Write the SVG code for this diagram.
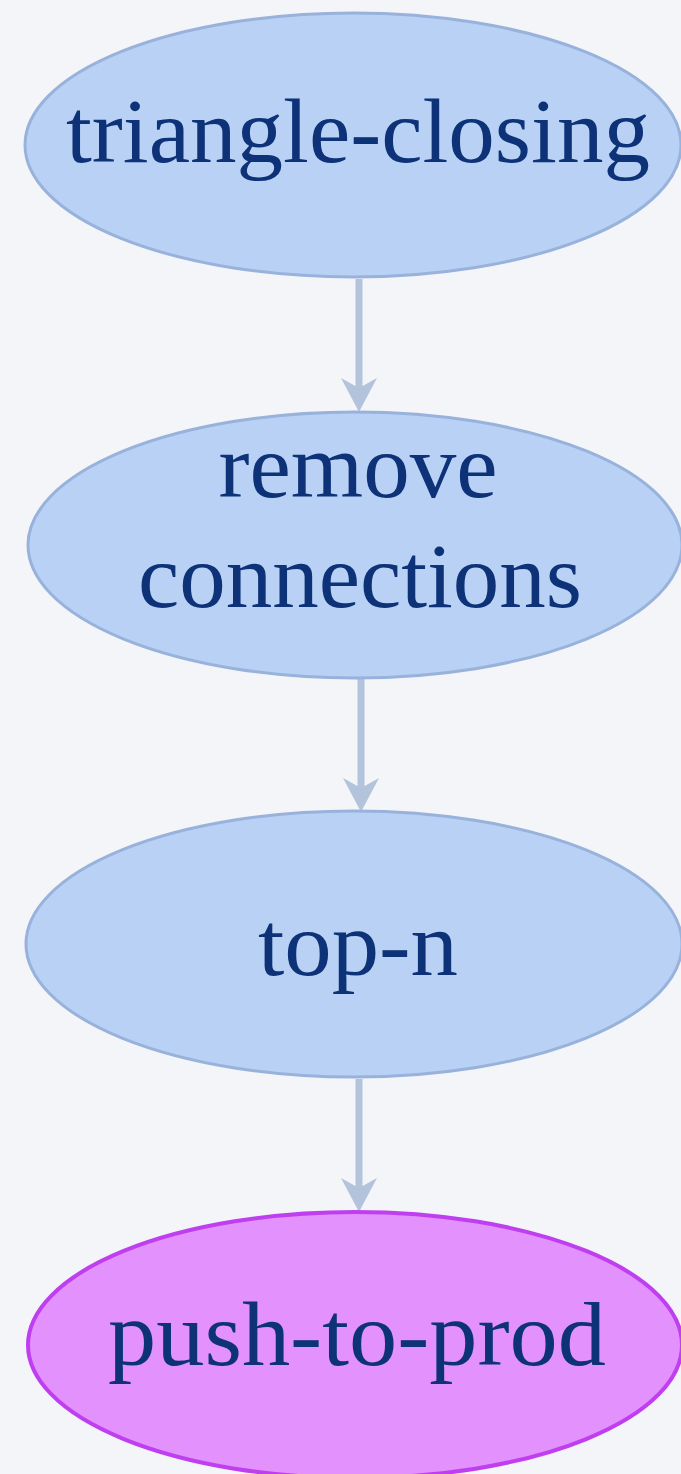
<svg xmlns="http://www.w3.org/2000/svg" width="681" height="1474" viewBox="0 0 681 1474">
<defs>
<style>
.n ellipse{fill:#b8d1f5;stroke:#98b2db;stroke-width:3}
.p ellipse{fill:#e391fc;stroke:#bf3ff0;stroke-width:4}
text{font-family:"Liberation Serif","DejaVu Serif",serif;font-size:92px;fill:#0d3278;text-anchor:middle}
.e line{stroke:#b3c3dc;stroke-width:7}
.e path{fill:#b3c3dc}
</style>
</defs>
<rect width="681" height="1474" fill="#f3f5f9"/>
<g class="e" id="connectors">
<line x1="359" y1="279" x2="359" y2="390"/>
<path d="M341,378 L359,412 L377,378 L359,388 Z"/>
<line x1="361" y1="679" x2="361" y2="790"/>
<path d="M343,778 L361,812 L379,778 L361,788 Z"/>
<line x1="359" y1="1079" x2="359" y2="1190"/>
<path d="M341,1178 L359,1212 L377,1178 L359,1188 Z"/>
</g>
<g class="n" id="triangle-closing">
<ellipse cx="353" cy="145" rx="328" ry="132"/>
<text x="358" y="162" textLength="584" lengthAdjust="spacingAndGlyphs">triangle-closing</text>
</g>
<g class="n" id="remove-connections">
<ellipse cx="355" cy="545" rx="327" ry="133"/>
<text x="358" y="497" textLength="279" lengthAdjust="spacingAndGlyphs">remove</text>
<text x="360" y="607" textLength="444" lengthAdjust="spacingAndGlyphs">connections</text>
</g>
<g class="n" id="top-n">
<ellipse cx="354" cy="944" rx="328" ry="133"/>
<text x="358" y="975" textLength="200" lengthAdjust="spacingAndGlyphs">top-n</text>
</g>
<g class="p" id="push-to-prod">
<ellipse cx="355" cy="1345" rx="327" ry="133"/>
<text x="357" y="1365" textLength="498" lengthAdjust="spacingAndGlyphs">push-to-prod</text>
</g>
</svg>
